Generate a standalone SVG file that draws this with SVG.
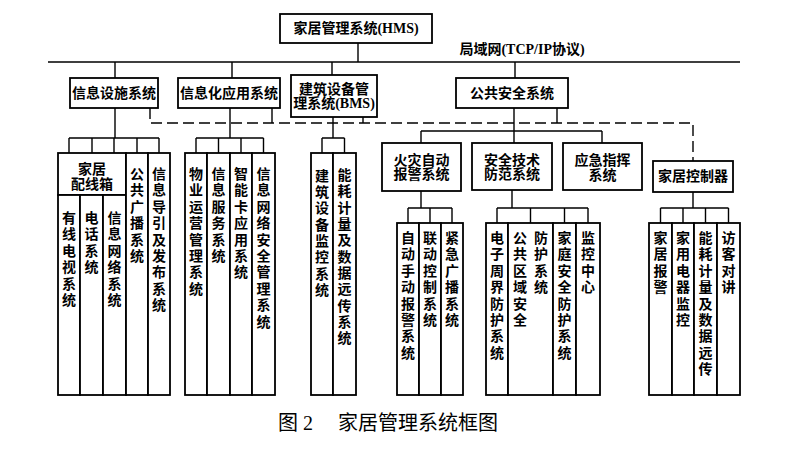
<svg xmlns="http://www.w3.org/2000/svg" width="797" height="453" viewBox="0 0 797 453">
<style>
.box{fill:#fff;stroke:#000;stroke-width:1.8}
.ln{fill:none;stroke:#000;stroke-width:1.4}
.dash{fill:none;stroke:#000;stroke-width:1.4;stroke-dasharray:11 5}
.t{font-family:"Liberation Serif","Noto Sans CJK SC",serif;font-size:14px;font-weight:bold;fill:#000;text-anchor:middle;dominant-baseline:central}
.v{font-family:"Noto Sans CJK SC",sans-serif;font-size:14px;font-weight:bold;fill:#000;text-anchor:middle;dominant-baseline:central}
.cap{font-family:"Liberation Serif","Noto Sans CJK SC",serif;font-size:20px;fill:#000}
</style>
<rect width="797" height="453" fill="#fff"/>
<g id="connectors">
<path class="ln" d="M358,43V62M48,62H740M115,62V78M232,62V78M332,62V75M515,62V78"/>
<path class="dash" d="M150,108V123H693V161"/>
<path class="ln" d="M272,108V123M363,117V123M557,108V123"/>
<path class="ln" d="M115,108V138M69,138H159M69,138V153M92,138V153M114,138V153M137,138V153M159,138V153"/>
<path class="ln" d="M230,108V138M196,138H263.5M196,138V153M218.5,138V153M241,138V153M263.5,138V153"/>
<path class="ln" d="M333,117V138M322,138H344.5M322,138V153M344.5,138V153"/>
<path class="ln" d="M514,108V143M421,131H602M421,131V143M602,131V143"/>
<path class="ln" d="M421,191V208M408,208H452M408,208V223M430,208V223M452,208V223"/>
<path class="ln" d="M512,190V208M497,208H588M497,208V223M530.5,208V223M564.5,208V223M588,208V223"/>
<path class="ln" d="M693,192V208M660.5,208H728.5M660.5,208V223M683,208V223M705.5,208V223M728.5,208V223"/>
</g>
<g id="hms"><rect class="box" x="280" y="14" width="152" height="29"/><text class="t" x="356" y="28.5">家居管理系统(HMS)</text></g>
<g id="lan-label"><text class="t" x="522" y="49">局域网(TCP/IP协议)</text></g>
<g id="xxss"><rect class="box" x="70" y="78" width="88" height="30"/><text class="t" x="114" y="93">信息设施系统</text></g>
<g id="xxhyy"><rect class="box" x="178" y="78" width="102" height="30"/><text class="t" x="229" y="93">信息化应用系统</text></g>
<g id="bms"><rect class="box" x="291" y="75" width="86" height="42"/><text class="t" x="334" y="89">建筑设备管</text><text class="t" x="334" y="103">理系统(BMS)</text></g>
<g id="ggaq"><rect class="box" x="456" y="78" width="112" height="30"/><text class="t" x="512" y="93">公共安全系统</text></g>
<g id="hzbj"><rect class="box" x="382" y="143" width="79" height="48"/><text class="t" x="421.5" y="160">火灾自动</text><text class="t" x="421.5" y="174">报警系统</text></g>
<g id="aqjs"><rect class="box" x="472" y="143" width="80" height="47"/><text class="t" x="512" y="160">安全技术</text><text class="t" x="512" y="174">防范系统</text></g>
<g id="yjzh"><rect class="box" x="563" y="143" width="79" height="47"/><text class="t" x="602.5" y="160">应急指挥</text><text class="t" x="602.5" y="175">系统</text></g>
<g id="jjkzq"><rect class="box" x="653" y="161" width="80" height="31"/><text class="t" x="693" y="176.5">家居控制器</text></g>
<g id="pxx"><rect class="box" x="58" y="153" width="68" height="42"/><text class="t" x="92" y="169">家居</text><text class="t" x="92" y="184">配线箱</text></g>
<g id="leaf-yxds"><rect class="box" x="58" y="195" width="22" height="200"/><text class="v" x="69 69 69 69 69 69" y="217 233 250 266 283 299">有线电视系统</text></g>
<g id="leaf-dh"><rect class="box" x="80" y="195" width="23" height="200"/><text class="v" x="91.5 91.5 91.5 91.5" y="217 233 250 266">电话系统</text></g>
<g id="leaf-xxwl"><rect class="box" x="103" y="195" width="23" height="200"/><text class="v" x="114.5 114.5 114.5 114.5 114.5 114.5" y="217 233 250 266 283 299">信息网络系统</text></g>
<g id="leaf-ggbb"><rect class="box" x="126" y="153" width="22" height="242"/><text class="v" x="137 137 137 137 137 137" y="173 189 206 222 239 255">公共广播系统</text></g>
<g id="leaf-xxdy"><rect class="box" x="148" y="153" width="22" height="242"/><text class="v" x="159 159 159 159 159 159 159 159 159" y="173 189 206 222 239 255 271 288 304">信息导引及发布系统</text></g>
<g id="leaf-wyyy"><rect class="box" x="185" y="153" width="22" height="242"/><text class="v" x="196 196 196 196 196 196 196 196" y="173 189 206 222 239 255 271 288">物业运营管理系统</text></g>
<g id="leaf-xxfw"><rect class="box" x="207" y="153" width="23" height="242"/><text class="v" x="218.5 218.5 218.5 218.5 218.5 218.5" y="173 189 206 222 239 255">信息服务系统</text></g>
<g id="leaf-znk"><rect class="box" x="230" y="153" width="22" height="242"/><text class="v" x="241 241 241 241 241 241 241" y="173 189 206 222 239 255 271">智能卡应用系统</text></g>
<g id="leaf-xxwlaq"><rect class="box" x="252" y="153" width="23" height="242"/><text class="v" x="263.5 263.5 263.5 263.5 263.5 263.5 263.5 263.5 263.5 263.5" y="173 189 206 222 239 255 271 288 304 321">信息网络安全管理系统</text></g>
<g id="leaf-jzsb"><rect class="box" x="311" y="153" width="22" height="242"/><text class="v" x="322 322 322 322 322 322 322 322" y="175 191 207 224 240 256 273 289">建筑设备监控系统</text></g>
<g id="leaf-nhjl1"><rect class="box" x="333" y="153" width="23" height="242"/><text class="v" x="344.5 344.5 344.5 344.5 344.5 344.5 344.5 344.5 344.5 344.5 344.5" y="174 190 207 223 239 256 272 288 305 321 337">能耗计量及数据远传系统</text></g>
<g id="leaf-zdsd"><rect class="box" x="397" y="223" width="22" height="172"/><text class="v" x="408 408 408 408 408 408 408 408" y="237 253 270 286 303 319 335 352">自动手动报警系统</text></g>
<g id="leaf-ldkz"><rect class="box" x="419" y="223" width="22" height="172"/><text class="v" x="430 430 430 430 430 430" y="237 253 270 286 303 319">联动控制系统</text></g>
<g id="leaf-jjgb"><rect class="box" x="441" y="223" width="22" height="172"/><text class="v" x="452 452 452 452 452 452" y="237 253 270 286 303 319">紧急广播系统</text></g>
<g id="leaf-dzzj"><rect class="box" x="486" y="223" width="22" height="172"/><text class="v" x="497 497 497 497 497 497 497 497" y="237 253 270 286 303 319 335 352">电子周界防护系统</text></g>
<g id="leaf-ggqy"><rect class="box" x="508" y="223" width="45" height="172"/><text class="v" x="520 520 520 520 520 520 541 541 541 541" y="237 253 270 286 303 319 237 253 270 286">公共区域安全防护系统</text></g>
<g id="leaf-jtaq"><rect class="box" x="553" y="223" width="23" height="172"/><text class="v" x="564.5 564.5 564.5 564.5 564.5 564.5 564.5 564.5" y="237 253 270 286 303 319 335 352">家庭安全防护系统</text></g>
<g id="leaf-jkzx"><rect class="box" x="576" y="223" width="24" height="172"/><text class="v" x="588 588 588 588" y="237 253 270 286">监控中心</text></g>
<g id="leaf-jjbj"><rect class="box" x="649" y="223" width="23" height="172"/><text class="v" x="660.5 660.5 660.5 660.5" y="237 253 270 286">家居报警</text></g>
<g id="leaf-jydq"><rect class="box" x="672" y="223" width="22" height="172"/><text class="v" x="683 683 683 683 683 683" y="237 253 270 286 303 319">家用电器监控</text></g>
<g id="leaf-nhjl2"><rect class="box" x="694" y="223" width="23" height="172"/><text class="v" x="705.5 705.5 705.5 705.5 705.5 705.5 705.5 705.5 705.5" y="237 253 270 286 303 319 335 352 368">能耗计量及数据远传</text></g>
<g id="leaf-fkdj"><rect class="box" x="717" y="223" width="23" height="172"/><text class="v" x="728.5 728.5 728.5 728.5" y="237 253 270 286">访客对讲</text></g>
<g id="caption"><text class="cap" x="278" y="430">图 2<tspan x="338">家居管理系统框图</tspan></text></g>
</svg>
